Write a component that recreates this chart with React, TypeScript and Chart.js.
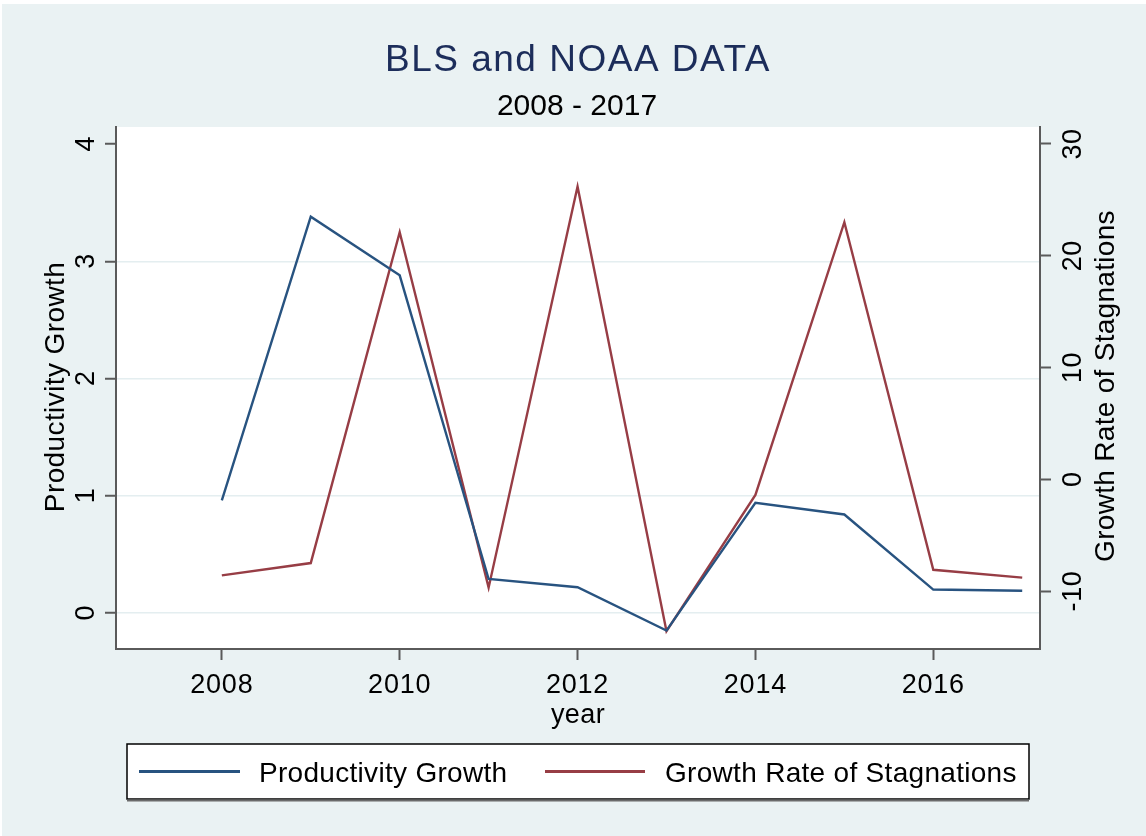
import { useEffect, useRef } from 'react';
import { Chart, registerables } from 'chart.js';

Chart.register(...registerables);

// ---- data ----
const years = [2008, 2009, 2010, 2011, 2012, 2013, 2014, 2015, 2016, 2017];
const productivityGrowth = [0.96, 3.38, 2.88, 0.29, 0.22, -0.15, 0.94, 0.84, 0.2, 0.19];
const stagnationGrowth = [-8.6, -7.5, 22.1, -9.7, 26.2, -13.6, -1.4, 23.0, -8.1, -8.8];
const xTicks = [2008, 2010, 2012, 2014, 2016];
const leftTicks = [0, 1, 2, 3, 4];
const rightTicks = [-10, 0, 10, 20, 30];
const seriesLabels = ['Productivity Growth', 'Growth Rate of Stagnations'];
const titleText = 'BLS and NOAA DATA';
const subtitleText = '2008 - 2017';
const xTitle = 'year';
const leftTitle = 'Productivity Growth';
const rightTitle = 'Growth Rate of Stagnations';

// ---- styles ----
const FONT = '"Liberation Sans", Arial, Helvetica, sans-serif';
const BG = '#eaf2f3';
const GRID = '#e4eef0';
const AXIS = '#5a5a5a';
const BLUE = '#285380';
const RED = '#973d45';

function drawText(
  ctx: CanvasRenderingContext2D,
  str: string,
  x: number,
  y: number,
  size: number,
  color: string,
  align: CanvasTextAlign,
  rotation = 0,
  spacing = 0
) {
  ctx.save();
  ctx.translate(x, y);
  if (rotation) ctx.rotate(rotation);
  ctx.font = `${size}px ${FONT}`;
  ctx.fillStyle = color;
  ctx.textAlign = align;
  ctx.textBaseline = 'alphabetic';
  if (spacing) (ctx as any).letterSpacing = `${spacing}px`;
  ctx.fillText(str, 0, 0);
  ctx.restore();
}

const decorPlugin = {
  id: 'decor',
  beforeDraw(chart: any) {
    const { ctx, width, height, chartArea: a } = chart;
    ctx.save();
    ctx.fillStyle = '#ffffff';
    ctx.fillRect(0, 0, width, height);
    ctx.fillStyle = BG;
    ctx.fillRect(2, 4, width - 2, height - 4);
    ctx.fillStyle = '#ffffff';
    ctx.fillRect(a.left, a.top, a.right - a.left, a.bottom - a.top);
    ctx.restore();
  },
  afterDraw(chart: any) {
    const { ctx, chartArea: a } = chart;
    const sx = chart.scales.x;
    const sy = chart.scales.y;
    const sy1 = chart.scales.y1;
    const cx = (a.left + a.right) / 2;
    const cy = (a.top + a.bottom) / 2;

    // titles
    drawText(ctx, titleText, cx, 71, 37, '#1c2d5a', 'center', 0, 1.5);
    drawText(ctx, subtitleText, cx - 1, 115, 30, '#000000', 'center');

    // x tick labels
    sx.ticks.forEach((t: any) => {
      drawText(ctx, String(t.value), sx.getPixelForValue(t.value), 693, 27, '#000', 'center', 0, 0.8);
    });
    drawText(ctx, xTitle, cx, 723, 27, '#000', 'center', 0, 0.4);

    // left tick labels (rotated)
    sy.ticks.forEach((t: any) => {
      drawText(ctx, String(t.value), 94, sy.getPixelForValue(t.value), 27, '#000', 'center', -Math.PI / 2);
    });
    drawText(ctx, leftTitle, 64, cy - 1, 28, '#000', 'center', -Math.PI / 2, 0.4);

    // right tick labels (rotated)
    sy1.ticks.forEach((t: any) => {
      drawText(ctx, String(t.value), 1081, sy1.getPixelForValue(t.value), 27, '#000', 'center', -Math.PI / 2, 0.6);
    });
    drawText(ctx, rightTitle, 1114, cy - 2, 28, '#000', 'center', -Math.PI / 2, 0.3);

    // legend
    const lx = 127, ly = 744, lw = 902, lh = 55;
    ctx.save();
    ctx.fillStyle = '#ffffff';
    ctx.fillRect(lx, ly, lw, lh);
    ctx.strokeStyle = '#000000';
    ctx.lineWidth = 1.5;
    ctx.strokeRect(lx, ly, lw, lh);
    ctx.strokeStyle = '#6b6b6b';
    ctx.lineWidth = 2;
    ctx.beginPath();
    ctx.moveTo(lx, ly + lh + 1.5);
    ctx.lineTo(lx + lw, ly + lh + 1.5);
    ctx.stroke();
    ctx.restore();

    const items = [
      { x0: 139, x1: 240, tx: 259 },
      { x0: 545, x1: 645, tx: 665 },
    ];
    chart.data.datasets.forEach((ds: any, i: number) => {
      const it = items[i];
      const ymid = ly + lh / 2;
      ctx.save();
      ctx.strokeStyle = ds.borderColor;
      ctx.lineWidth = 3;
      ctx.beginPath();
      ctx.moveTo(it.x0, ymid);
      ctx.lineTo(it.x1, ymid);
      ctx.stroke();
      ctx.restore();
      drawText(ctx, ds.label, it.tx, ymid + 10, 28, '#000', 'left', 0, 0.3);
    });
  },
};

export default function App() {
  const canvasRef = useRef<HTMLCanvasElement | null>(null);

  useEffect(() => {
    const canvas = canvasRef.current;
    if (!canvas) return;

    const chart = new Chart(canvas, {
      type: 'line',
      data: {
        datasets: [
          {
            label: seriesLabels[0],
            data: years.map((yr, i) => ({ x: yr, y: productivityGrowth[i] })),
            borderColor: BLUE,
            backgroundColor: BLUE,
            borderWidth: 2.4,
            pointRadius: 0,
            tension: 0,
            yAxisID: 'y',
          },
          {
            label: seriesLabels[1],
            data: years.map((yr, i) => ({ x: yr, y: stagnationGrowth[i] })),
            borderColor: RED,
            backgroundColor: RED,
            borderWidth: 2.4,
            pointRadius: 0,
            tension: 0,
            yAxisID: 'y1',
          },
        ],
      },
      options: {
        animation: false,
        responsive: false,
        devicePixelRatio: 1,
        layout: { padding: { top: 127, bottom: 127, left: 0, right: 0 } },
        plugins: {
          legend: { display: false },
          title: { display: false },
          tooltip: { enabled: false },
        },
        scales: {
          x: {
            type: 'linear',
            min: 2006.81,
            max: 2017.2,
            afterBuildTicks: (s: any) => {
              s.ticks = xTicks.map((v) => ({ value: v }));
            },
            afterFit: (s: any) => {
              s.height = 60;
            },
            ticks: { display: false },
            grid: {
              drawOnChartArea: false,
              drawTicks: true,
              tickLength: 11,
              tickWidth: 2,
              tickColor: AXIS,
            },
            border: { display: true, color: AXIS, width: 2 },
          },
          y: {
            type: 'linear',
            position: 'left',
            min: -0.307,
            max: 4.145,
            afterBuildTicks: (s: any) => {
              s.ticks = leftTicks.map((v) => ({ value: v }));
            },
            afterFit: (s: any) => {
              s.width = 116;
            },
            ticks: { display: false },
            grid: {
              color: (c: any) => (c.tick && c.tick.value === 4 ? 'rgba(0,0,0,0)' : GRID),
              lineWidth: 1.5,
              drawTicks: true,
              tickLength: 11,
              tickWidth: 2,
              tickColor: AXIS,
            },
            border: { display: true, color: AXIS, width: 2 },
          },
          y1: {
            type: 'linear',
            position: 'right',
            min: -15.19,
            max: 31.52,
            afterBuildTicks: (s: any) => {
              s.ticks = rightTicks.map((v) => ({ value: v }));
            },
            afterFit: (s: any) => {
              s.width = 106;
            },
            ticks: { display: false },
            grid: {
              drawOnChartArea: false,
              drawTicks: true,
              tickLength: 11,
              tickWidth: 2,
              tickColor: AXIS,
            },
            border: { display: true, color: AXIS, width: 2 },
          },
        },
      } as any,
      plugins: [decorPlugin],
    });

    return () => {
      chart.destroy();
    };
  }, []);

  return (
    <div style={{ position: 'fixed', left: 0, top: 0, width: 1146, height: 836 }}>
      <canvas ref={canvasRef} width={1146} height={836} style={{ display: 'block', width: 1146, height: 836 }} />
    </div>
  );
}
